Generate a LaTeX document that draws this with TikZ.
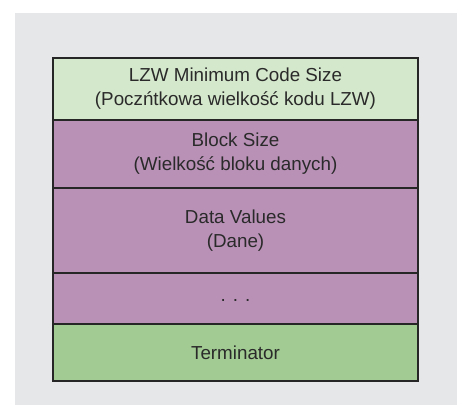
\documentclass[tikz,border=0pt]{standalone}
\usepackage{fontspec}
\setmainfont{Liberation Sans}
\usepackage{xcolor}
\usepackage{tikz}
\usetikzlibrary{positioning}

\definecolor{bggray}{HTML}{E6E7E9}
\definecolor{lightgreen}{HTML}{D4E8CB}
\definecolor{lilac}{HTML}{B991B7}
\definecolor{midgreen}{HTML}{A1CB92}
\definecolor{edgegray}{HTML}{262626}
\definecolor{textgray}{HTML}{2A2A2A}

\begin{document}
\begin{tikzpicture}[
    field/.style={draw=edgegray, line width=2.2pt, outer sep=0pt, inner sep=0pt,
        minimum width=365pt, align=center, text=textgray,
        font=\fontsize{18.8}{24}\selectfont},
    node distance=0pt
]
    \useasboundingbox (0pt,0pt) rectangle (462pt,-412pt);
    \fill[bggray] (15pt,-13pt) rectangle (457pt,-405pt);

    \node[field, fill=lightgreen, minimum height=62pt, anchor=north] (lzw) at (235.5pt,-58pt)
        {LZW Minimum Code Size\\(Poczńtkowa wielkość kodu LZW)};
    \node[field, fill=lilac, minimum height=68pt, below=of lzw] (blocksize)
        {Block Size\\(Wielkość bloku danych)};
    \node[field, fill=lilac, minimum height=85pt, below=of blocksize] (datavalues)
        {Data Values\\(Dane)};
    \node[field, fill=lilac, minimum height=51pt, below=of datavalues] (dots)
        {\raisebox{-5pt}{. . .}};
    \node[field, fill=midgreen, minimum height=57pt, below=of dots] (terminator)
        {Terminator};

\end{tikzpicture}
\end{document}
